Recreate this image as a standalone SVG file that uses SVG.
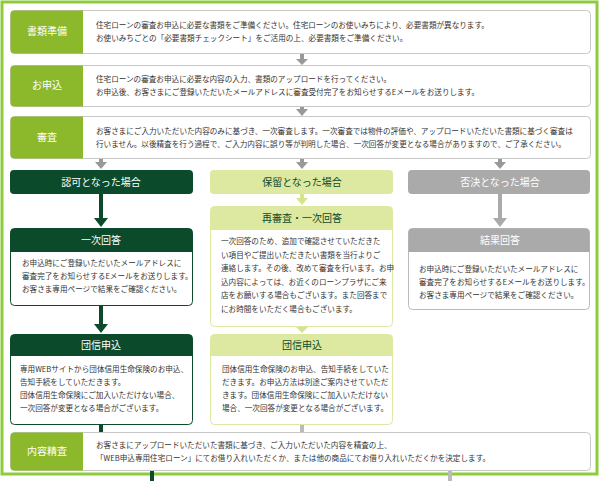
<svg xmlns="http://www.w3.org/2000/svg" width="600" height="481" viewBox="0 0 600 481">
<style>
text{font-family:"Noto Sans CJK JP","Noto Sans",sans-serif}
.b{font-size:7.6px;fill:#333}
.lab{font-size:10px;fill:#fff;text-anchor:middle}
.h{font-size:10px;text-anchor:middle}
.box{fill:#fff;stroke:#c8c8c8;stroke-width:1}
</style>
<defs>
<marker id="ag" markerWidth="4" markerHeight="3" refX="2" refY="0" orient="auto" markerUnits="strokeWidth"/>
</defs>
<rect x="2" y="2" width="595" height="472" fill="#fff" stroke="#8dcc3a" stroke-width="3"/>
<g id="connectors">
<path d="M302 54V60" stroke="#999" stroke-width="4"/><path d="M296 59H308L302 65Z" fill="#999"/>
<path d="M302 106V110" stroke="#999" stroke-width="4"/><path d="M296 109H308L302 116Z" fill="#999"/>
<path d="M101 158V163" stroke="#999" stroke-width="4"/><path d="M95 162H107L101 169Z" fill="#999"/>
<path d="M302 158V163" stroke="#999" stroke-width="4"/><path d="M296 162H308L302 169Z" fill="#999"/>
<path d="M500 158V163" stroke="#999" stroke-width="4"/><path d="M494 162H506L500 169Z" fill="#999"/>
<path d="M101 194V219" stroke="#0c4a2c" stroke-width="4"/><path d="M94 218H108L101 227Z" fill="#0c4a2c"/>
<path d="M302 194V199" stroke="#d6e48c" stroke-width="4"/><path d="M296 198H308L302 205Z" fill="#d6e48c"/>
<path d="M500 194V219" stroke="#aaa" stroke-width="4"/><path d="M493 218H507L500 227Z" fill="#aaa"/>
<path d="M101 306V325" stroke="#0c4a2c" stroke-width="4"/><path d="M94 324H108L101 333Z" fill="#0c4a2c"/>
<path d="M302 326V328" stroke="#d6e48c" stroke-width="4"/><path d="M296 327H308L302 333Z" fill="#d6e48c"/>
<path d="M101 425V432" stroke="#0c4a2c" stroke-width="4"/>
<path d="M302 425V432" stroke="#bbb" stroke-width="4"/>
<path d="M152 470V481" stroke="#0c4a2c" stroke-width="4"/>
<path d="M450 470V481" stroke="#bbb" stroke-width="4"/>
</g>
<g id="step1">
<rect class="box" x="10.5" y="10.5" width="580" height="43" rx="4"/>
<path d="M14.5 10.5H83V53.5H14.5A4 4 0 0 1 10.5 49.5V14.5A4 4 0 0 1 14.5 10.5Z" fill="#8cb82b"/>
<text class="lab" x="47" y="35">書類準備</text>
<text class="b" x="96" y="28">住宅ローンの審査お申込に必要な書類をご準備ください。住宅ローンのお使いみちにより、必要書類が異なります。</text>
<text class="b" x="96" y="41">お使いみちごとの「必要書類チェックシート」をご活用の上、必要書類をご準備ください。</text>
</g>
<g id="step2">
<rect class="box" x="10.5" y="65.5" width="580" height="41" rx="4"/>
<path d="M14.5 65.5H83V106.5H14.5A4 4 0 0 1 10.5 102.5V69.5A4 4 0 0 1 14.5 65.5Z" fill="#8cb82b"/>
<text class="lab" x="47" y="89">お申込</text>
<text class="b" x="96" y="82">住宅ローンの審査お申込に必要な内容の入力、書類のアップロードを行ってください。</text>
<text class="b" x="96" y="95">お申込後、お客さまにご登録いただいたメールアドレスに審査受付完了をお知らせするEメールをお送りします。</text>
</g>
<g id="step3">
<rect class="box" x="10.5" y="116.5" width="580" height="42" rx="4"/>
<path d="M14.5 116.5H83V158.5H14.5A4 4 0 0 1 10.5 154.5V120.5A4 4 0 0 1 14.5 116.5Z" fill="#8cb82b"/>
<text class="lab" x="47" y="141">審査</text>
<text class="b" x="96" y="134">お客さまにご入力いただいた内容のみに基づき、一次審査します。一次審査では物件の評価や、アップロードいただいた書類に基づく審査は</text>
<text class="b" x="96" y="147">行いません。以後精査を行う過程で、ご入力内容に誤り等が判明した場合、一次回答が変更となる場合がありますので、ご了承ください。</text>
</g>
<g id="approve">
<rect x="10" y="170" width="183" height="24" rx="4" fill="#0c4a2c"/>
<text class="h" x="101" y="186" fill="#fff">認可となった場合</text>
</g>
<g id="hold">
<rect x="210" y="170" width="183" height="24" rx="4" fill="#dde8a0"/>
<text class="h" x="302" y="186" fill="#0c4a2c">保留となった場合</text>
</g>
<g id="reject">
<rect x="408" y="170" width="182" height="24" rx="4" fill="#aaa"/>
<text class="h" x="500" y="186" fill="#fff">否決となった場合</text>
</g>
<g id="first-answer">
<rect x="10.5" y="228.5" width="182" height="77" rx="4" fill="#fff" stroke="#0c4a2c"/>
<path d="M14.5 228.5H188.5A4 4 0 0 1 192.5 232.5V252H10.5V232.5A4 4 0 0 1 14.5 228.5Z" fill="#0c4a2c"/>
<text class="h" x="101" y="244" fill="#fff">一次回答</text>
<text class="b" x="22" y="266">お申込時にご登録いただいたメールアドレスに</text>
<text class="b" x="22" y="279">審査完了をお知らせするEメールをお送りします。</text>
<text class="b" x="22" y="292">お客さま専用ページで結果をご確認ください。</text>
</g>
<g id="re-review">
<rect x="210.5" y="206.5" width="182" height="120" rx="4" fill="#fff" stroke="#dde8a0"/>
<path d="M214.5 206.5H388.5A4 4 0 0 1 392.5 210.5V230H210.5V210.5A4 4 0 0 1 214.5 206.5Z" fill="#dde8a0"/>
<text class="h" x="302" y="222" fill="#0c4a2c">再審査・一次回答</text>
<text class="b" x="221" y="244">一次回答のため、追加で確認させていただきた</text>
<text class="b" x="221" y="257.5">い項目やご提出いただきたい書類を当行よりご</text>
<text class="b" x="221" y="271">連絡します。その後、改めて審査を行います。お申</text>
<text class="b" x="221" y="284.5">込内容によっては、お近くのローンプラザにご来</text>
<text class="b" x="221" y="298">店をお願いする場合もございます。また回答まで</text>
<text class="b" x="221" y="311.5">にお時間をいただく場合もございます。</text>
</g>
<g id="result">
<rect x="408.5" y="228.5" width="181" height="81" rx="4" fill="#fff" stroke="#bbb"/>
<path d="M412.5 228.5H585.5A4 4 0 0 1 589.5 232.5V252H408.5V232.5A4 4 0 0 1 412.5 228.5Z" fill="#aaa"/>
<text class="h" x="500" y="244" fill="#fff">結果回答</text>
<text class="b" x="419" y="272">お申込時にご登録いただいたメールアドレスに</text>
<text class="b" x="419" y="285">審査完了をお知らせするEメールをお送りします。</text>
<text class="b" x="419" y="298">お客さま専用ページで結果をご確認ください。</text>
</g>
<g id="insurance1">
<rect x="10.5" y="334.5" width="182" height="90" rx="4" fill="#fff" stroke="#0c4a2c"/>
<path d="M14.5 334.5H188.5A4 4 0 0 1 192.5 338.5V356H10.5V338.5A4 4 0 0 1 14.5 334.5Z" fill="#0c4a2c"/>
<text class="h" x="101" y="349" fill="#fff">団信申込</text>
<text class="b" x="20" y="372">専用WEBサイトから団体信用生命保険のお申込、</text>
<text class="b" x="20" y="385">告知手続をしていただきます。</text>
<text class="b" x="20" y="398">団体信用生命保険にご加入いただけない場合、</text>
<text class="b" x="20" y="411">一次回答が変更となる場合がございます。</text>
</g>
<g id="insurance2">
<rect x="210.5" y="334.5" width="182" height="90" rx="4" fill="#fff" stroke="#dde8a0"/>
<path d="M214.5 334.5H388.5A4 4 0 0 1 392.5 338.5V356H210.5V338.5A4 4 0 0 1 214.5 334.5Z" fill="#dde8a0"/>
<text class="h" x="302" y="349" fill="#0c4a2c">団信申込</text>
<text class="b" x="222" y="372">団体信用生命保険のお申込、告知手続をしていた</text>
<text class="b" x="222" y="385">だきます。お申込方法は別途ご案内させていただ</text>
<text class="b" x="222" y="398">きます。団体信用生命保険にご加入いただけない</text>
<text class="b" x="222" y="411">場合、一次回答が変更となる場合がございます。</text>
</g>
<g id="step-final">
<rect class="box" x="10.5" y="432.5" width="580" height="38" rx="4"/>
<path d="M14.5 432.5H83V470.5H14.5A4 4 0 0 1 10.5 466.5V436.5A4 4 0 0 1 14.5 432.5Z" fill="#8cb82b"/>
<text class="lab" x="47" y="455">内容精査</text>
<text class="b" x="96" y="448">お客さまにアップロードいただいた書類に基づき、ご入力いただいた内容を精査の上、</text>
<text class="b" x="96" y="461">「WEB申込専用住宅ローン」にてお借り入れいただくか、または他の商品にてお借り入れいただくかを決定します。</text>
</g>
</svg>
